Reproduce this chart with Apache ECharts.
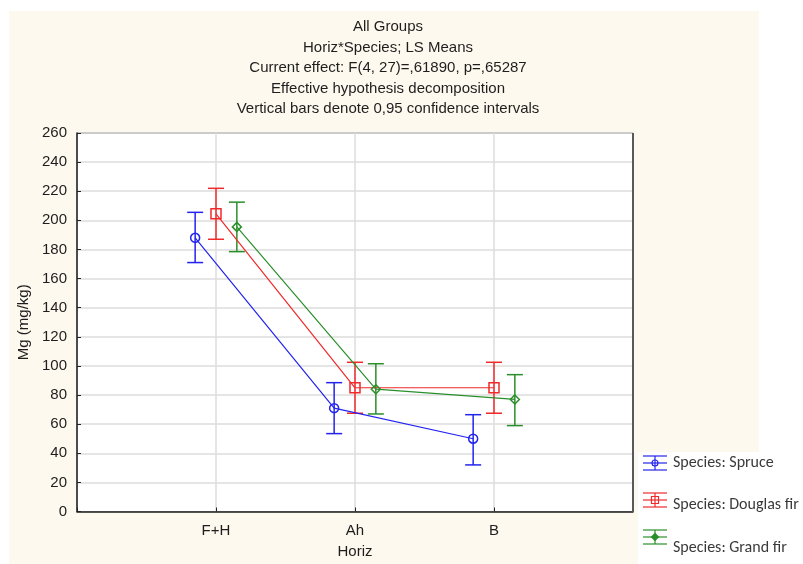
<!DOCTYPE html>
<html>
<head>
<meta charset="utf-8">
<script src="https://cdn.jsdelivr.net/npm/echarts@6/dist/echarts.min.js"></script>
<style>
  html, body { margin: 0; padding: 0; background: #ffffff; }
  #chart { width: 803px; height: 564px; }
</style>
</head>
<body>
<div id="chart"></div>
<script>
// Horizon categories on the x axis
var categories = ['F+H', 'Ah', 'B'];

// LS means of Mg (mg/kg) with 0.95 confidence limits, per species
var spruceMean  = [188, 71, 50];
var spruceLow   = [171, 53.5, 32];
var spruceHigh  = [205.5, 88.5, 66.5];

var douglasMean = [204.5, 85, 85];
var douglasLow  = [187, 67.5, 67.5];
var douglasHigh = [222, 102.5, 102.5];

var grandMean   = [195.5, 84, 77];
var grandLow    = [178.5, 67, 59];
var grandHigh   = [212.5, 101.5, 94];

var yTicks = [0, 20, 40, 60, 80, 100, 120, 140, 160, 180, 200, 220, 240, 260];

var titleLines = [
  'All Groups',
  'Horiz*Species; LS Means',
  'Current effect: F(4, 27)=,61890, p=,65287',
  'Effective hypothesis decomposition',
  'Vertical bars denote 0,95 confidence intervals'
];

var speciesDefs = [
  { name: 'Species: Spruce',      mean: spruceMean,  low: spruceLow,  high: spruceHigh,  color: '#2323f0', symbol: 'circle',  size: 9, shift: -0.15 },
  { name: 'Species: Douglas fir', mean: douglasMean, low: douglasLow, high: douglasHigh, color: '#f02a2a', symbol: 'rect',    size: 10, shift: 0 },
  { name: 'Species: Grand fir',   mean: grandMean,   low: grandLow,   high: grandHigh,   color: '#2a8f2a', symbol: 'diamond', size: 9, shift: 0.15 }
];

var font = 'Liberation Sans, Arial, sans-serif';
var textColor = '#1e1e1e';
var series = [];

speciesDefs.forEach(function (sp) {
  var pts = sp.mean.map(function (v, i) { return [i + 1 + sp.shift, v]; });
  series.push({
    name: sp.name,
    type: 'line',
    data: pts,
    symbol: sp.symbol,
    symbolSize: sp.size,
    showAllSymbol: true,
    lineStyle: { color: sp.color, width: 1.2 },
    itemStyle: { color: 'transparent', borderColor: sp.color, borderWidth: 1.5 },
    z: 3,
    animation: false
  });
  var bars = sp.low.map(function (lo, i) { return [i + 1 + sp.shift, lo, sp.high[i]]; });
  series.push({
    name: sp.name + ' CI',
    type: 'custom',
    data: bars,
    z: 2,
    animation: false,
    renderItem: function (params, api) {
      var x = api.value(0);
      var lo = api.coord([x, api.value(1)]);
      var hi = api.coord([x, api.value(2)]);
      var half = 8;
      var st = { stroke: sp.color, lineWidth: 1.5 };
      return {
        type: 'group',
        children: [
          { type: 'line', shape: { x1: lo[0], y1: lo[1], x2: hi[0], y2: hi[1] }, style: st },
          { type: 'line', shape: { x1: hi[0] - half, y1: hi[1], x2: hi[0] + half, y2: hi[1] }, style: st },
          { type: 'line', shape: { x1: lo[0] - half, y1: lo[1], x2: lo[0] + half, y2: lo[1] }, style: st }
        ]
      };
    }
  });
});

// Background panels and legend entries (error-bar glyph with marker, plus label)
var legendIconY = [463, 500, 537];
var legendTextY = [463, 505, 548];
var graphics = [
  { type: 'rect', shape: { x: 9, y: 11, width: 750, height: 553 }, style: { fill: '#fef9ee' }, z: -10, silent: true },
  { type: 'rect', shape: { x: 638, y: 452, width: 165, height: 112 }, style: { fill: '#ffffff' }, z: -9, silent: true },
  // heavier right frame edge of the plot box
  { type: 'line', shape: { x1: 633, y1: 133, x2: 633, y2: 511.5 }, style: { stroke: '#5a5a5a', lineWidth: 2 }, z: 10 }
];
speciesDefs.forEach(function (sp, i) {
  var cy = legendIconY[i];
  var st = { stroke: sp.color, lineWidth: 1.2, fill: null };
  graphics.push(
    { type: 'line', shape: { x1: 643, y1: cy, x2: 667, y2: cy }, style: st },
    { type: 'line', shape: { x1: 643, y1: cy - 7, x2: 667, y2: cy - 7 }, style: st },
    { type: 'line', shape: { x1: 643, y1: cy + 7, x2: 667, y2: cy + 7 }, style: st },
    { type: 'line', shape: { x1: 655, y1: cy - 7, x2: 655, y2: cy + 7 }, style: st }
  );
  if (sp.symbol === 'circle') {
    graphics.push({ type: 'circle', shape: { cx: 655, cy: cy, r: 3 }, style: { stroke: sp.color, lineWidth: 1.2, fill: 'transparent' } });
  } else if (sp.symbol === 'rect') {
    graphics.push({ type: 'rect', shape: { x: 651.5, y: cy - 3.5, width: 7, height: 7 }, style: { stroke: sp.color, lineWidth: 1.2, fill: 'transparent' } });
  } else {
    graphics.push({ type: 'polygon', shape: { points: [[655, cy - 3.5], [658.5, cy], [655, cy + 3.5], [651.5, cy]] }, style: { stroke: sp.color, lineWidth: 1.2, fill: sp.color } });
  }
  graphics.push({
    type: 'text', x: 673, y: legendTextY[i],
    style: { text: sp.name, fill: '#3a3a3a', font: '16px Carlito, Calibri, "Open Sans", sans-serif', verticalAlign: 'middle', align: 'left' }
  });
});

var chart = echarts.init(document.getElementById('chart'), null, { renderer: 'canvas' });
chart.setOption({
  backgroundColor: '#ffffff',
  animation: false,
  title: {
    text: titleLines.join('\n'),
    left: 383,
    top: 12,
    textAlign: 'center',
    textStyle: { fontFamily: font, fontSize: 15, fontWeight: 'normal', color: textColor, lineHeight: 20.5 }
  },
  grid: {
    left: 77, right: 170, top: 133, bottom: 52.5,
    outerBoundsMode: 'none',
    show: true, backgroundColor: '#ffffff', borderColor: '#333333', borderWidth: 1
  },
  xAxis: {
    type: 'value', min: 0, max: 4, interval: 1,
    name: 'Horiz', nameLocation: 'middle', nameGap: 33,
    nameTextStyle: { fontFamily: font, fontSize: 15, color: textColor },
    axisLine: { show: true, lineStyle: { color: '#222', width: 1.5 } },
    axisTick: { show: true, inside: true, length: 4, lineStyle: { color: '#222' } },
    axisLabel: {
      fontFamily: font, fontSize: 15, color: textColor, margin: 12,
      formatter: function (v) { return categories[Math.round(v) - 1] || ''; }
    },
    splitLine: { show: true, lineStyle: { color: '#dcdcdc', width: 1.5 } }
  },
  yAxis: {
    type: 'value', min: yTicks[0], max: yTicks[yTicks.length - 1], interval: yTicks[1] - yTicks[0],
    name: 'Mg (mg/kg)', nameLocation: 'middle', nameGap: 38, nameRotate: 90,
    nameTextStyle: { fontFamily: font, fontSize: 15, color: textColor },
    axisLine: { show: true, lineStyle: { color: '#222', width: 1.5 } },
    axisTick: { show: true, inside: true, length: 4, lineStyle: { color: '#222' } },
    axisLabel: { fontFamily: font, fontSize: 15, color: textColor, margin: 10 },
    splitLine: { show: true, lineStyle: { color: '#dcdcdc', width: 1.5 } }
  },
  graphic: graphics,
  series: series
});
</script>
</body>
</html>
